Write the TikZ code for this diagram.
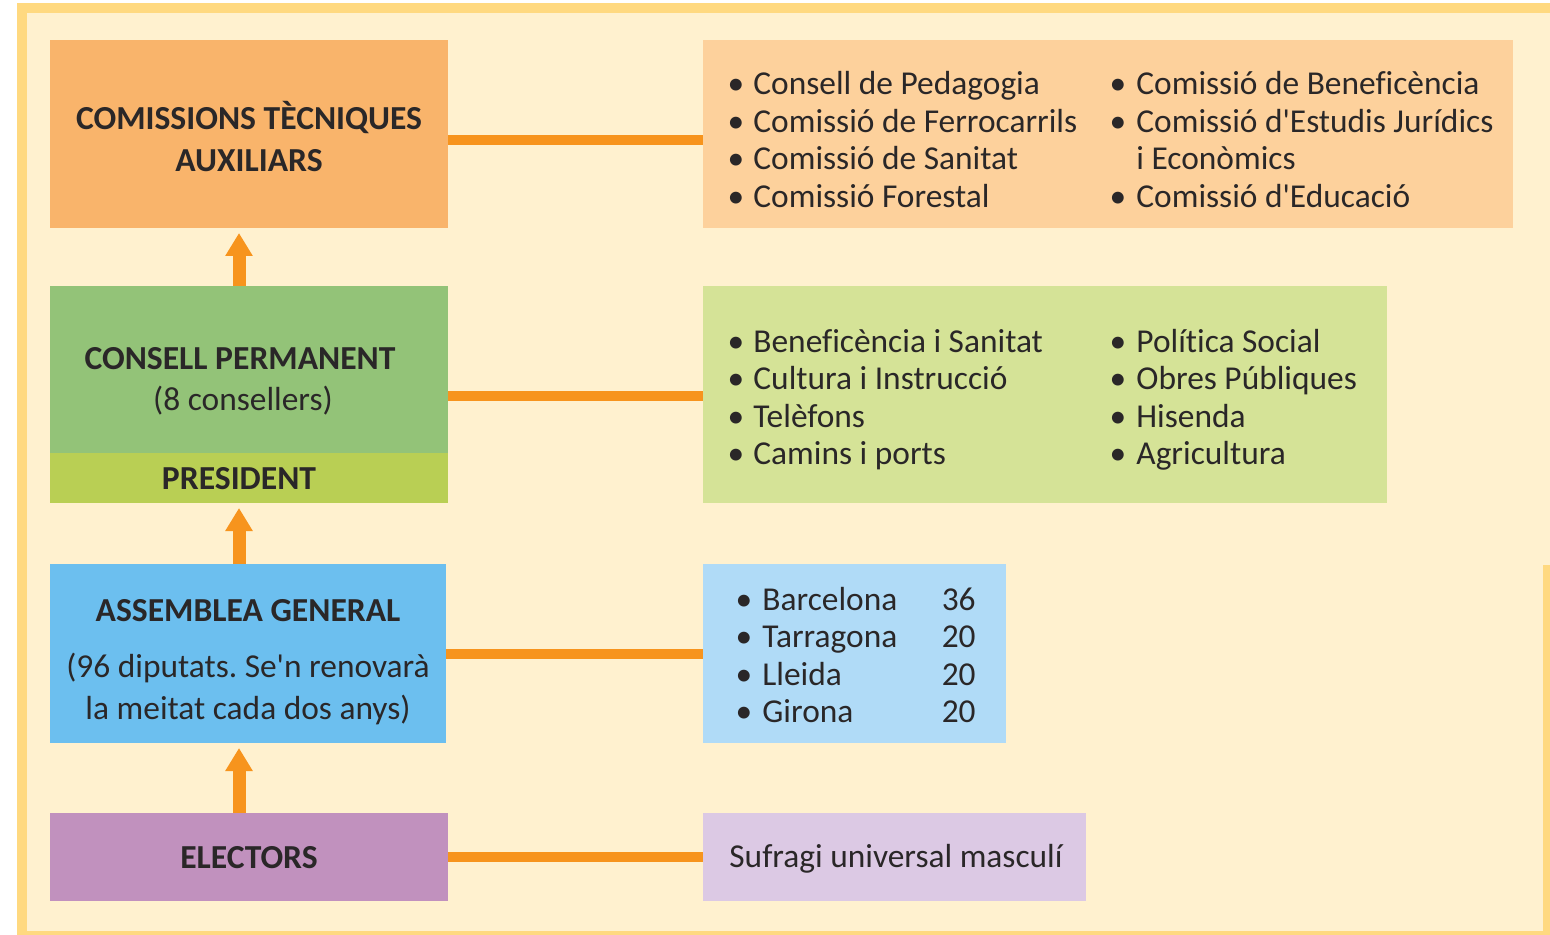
\documentclass[tikz,border=0pt]{standalone}
\usepackage{fontspec}
\setmainfont{Carlito}[Ligatures={NoCommon}]
\frenchspacing
\usetikzlibrary{arrows.meta}
\definecolor{framey}{HTML}{FFD980}
\definecolor{cream}{HTML}{FFF1CF}
\definecolor{comc}{HTML}{F9B46B}
\definecolor{comrc}{HTML}{FDD19C}
\definecolor{consc}{HTML}{93C378}
\definecolor{presc}{HTML}{B9CF54}
\definecolor{consrc}{HTML}{D5E397}
\definecolor{assc}{HTML}{6CBFEF}
\definecolor{assrc}{HTML}{B0DBF7}
\definecolor{elec}{HTML}{C191BE}
\definecolor{elerc}{HTML}{DCC9E4}
\definecolor{linkc}{HTML}{F7941D}
\definecolor{textc}{HTML}{2A2728}
\tikzset{
  box/.style={draw=none, inner sep=0pt, outer sep=0pt},
  txt/.style={inner sep=0pt, anchor=base, text=textc, font=\fontsize{16.7}{18.75}\selectfont\frenchspacing},
  ttl/.style={txt, font=\fontsize{16.8}{18.75}\selectfont\bfseries},
  lft/.style={txt, anchor=base west},
  rgt/.style={txt, anchor=base east},
  conn/.style={draw=linkc, line width=5pt},
  uparrow/.style={draw=linkc, line width=6.5pt, -{Triangle[width=13pt,length=11.5pt]}, shorten >=2.5pt}
}
\begin{document}
\begin{tikzpicture}[x=0.5pt,y=-0.5pt]
\useasboundingbox (0,0) rectangle (1550,935);
\fill[white] (0,0) rectangle (1550,935);
% frame
\fill[cream] (27,13) rectangle (1550,931);
\fill[framey] (17,3) rectangle (1550,13);
\fill[framey] (17,3) rectangle (27,935);
\fill[framey] (17,931) rectangle (1550,935);
\fill[framey] (1543,565) rectangle (1550,935);

% left column boxes
\node[box, fill=comc, minimum width=199pt, minimum height=94pt] (com) at (249,134) {};
\node[box, fill=consc, minimum width=199pt, minimum height=83.5pt] (cons) at (249,369.5) {};
\node[box, fill=presc, minimum width=199pt, minimum height=25pt] (pres) at (249,478) {};
\node[box, fill=assc, minimum width=198pt, minimum height=89.5pt] (ass) at (248,653.5) {};
\node[box, fill=elec, minimum width=199pt, minimum height=44pt] (ele) at (249,857) {};

% right column boxes
\node[box, fill=comrc, minimum width=405pt, minimum height=94pt] (comr) at (1108,134) {};
\node[box, fill=consrc, minimum width=342pt, minimum height=108.5pt] (consr) at (1045,394.5) {};
\node[box, fill=assrc, minimum width=151.5pt, minimum height=89.5pt] (assr) at (854.5,653.5) {};
\node[box, fill=elerc, minimum width=191.5pt, minimum height=44pt] (eler) at (894.5,857) {};

% connectors
\coordinate (y1) at (0,140);
\coordinate (y2) at (0,396);
\coordinate (y3) at (0,654);
\coordinate (y4) at (0,857);
\coordinate (ax) at (239,0);
\draw[conn] (com.east |- y1) -- (comr.west |- y1);
\draw[conn] (cons.east |- y2) -- (consr.west |- y2);
\draw[conn] (ass.east |- y3) -- (assr.west |- y3);
\draw[conn] (ele.east |- y4) -- (eler.west |- y4);
\draw[uparrow] (cons.north -| ax) -- (com.south -| ax);
\draw[uparrow] (ass.north -| ax) -- (pres.south -| ax);
\draw[uparrow] (ele.north -| ax) -- (ass.south -| ax);

% left texts
\node[ttl] (t1) at (249,130) {COMISSIONS TÈCNIQUES};
\node[ttl] (t2) at (249,172) {AUXILIARS};
\node[ttl] (t3) at (240,369) {CONSELL PERMANENT};
\node[txt] (t4) at (243,410) {(8 consellers)};
\node[ttl] (t5) at (239,489) {PRESIDENT};
\node[ttl] (t6) at (248,621) {ASSEMBLEA GENERAL};
\node[txt] (t7) at (248,677) {(96 diputats. Se\textquotesingle n renovarà};
\node[txt] (t8) at (248,719) {la meitat cada dos anys)};
\node[ttl] (t9) at (249,868) {ELECTORS};

% box 1 texts
\foreach \yy/\tx [count=\i] in {95/Consell de Pedagogia, 132.5/Comissió de Ferrocarrils, 170/Comissió de Sanitat, 207.5/Comissió Forestal}{
  \node[txt] (b1a\i) at (736,\yy) {\textbullet};
  \node[lft] (c1a\i) at (753,\yy) {\tx};
}
\foreach \yy/\tx [count=\i] in {95/Comissió de Beneficència, 132.5/Comissió d\textquotesingle Estudis Jurídics, 207.5/Comissió d\textquotesingle Educació}{
  \node[txt] (b1b\i) at (1118,\yy) {\textbullet};
  \node[lft] (c1b\i) at (1136,\yy) {\tx};
}
\node[lft] (c1b4) at (1136,170) {i Econòmics};

% box 2 texts
\foreach \yy/\tx [count=\i] in {352/Beneficència i Sanitat, 389.5/Cultura i Instrucció, 427/Telèfons, 464.5/Camins i ports}{
  \node[txt] (b2a\i) at (736,\yy) {\textbullet};
  \node[lft] (c2a\i) at (753,\yy) {\tx};
}
\foreach \yy/\tx [count=\i] in {352/Política Social, 389.5/Obres Públiques, 427/Hisenda, 464.5/Agricultura}{
  \node[txt] (b2b\i) at (1118,\yy) {\textbullet};
  \node[lft] (c2b\i) at (1136,\yy) {\tx};
}

% box 3 texts
\foreach \yy/\tx/\nn [count=\i] in {610/Barcelona/36, 647.5/Tarragona/20, 685/Lleida/20, 722.5/Girona/20}{
  \node[txt] (b3\i) at (744,\yy) {\textbullet};
  \node[lft] (c3\i) at (762,\yy) {\tx};
  \node[rgt] (n3\i) at (976,\yy) {\nn};
}

% box 4 text
\node[lft] (c4) at (729,867) {Sufragi universal masculí};
\end{tikzpicture}
\end{document}
